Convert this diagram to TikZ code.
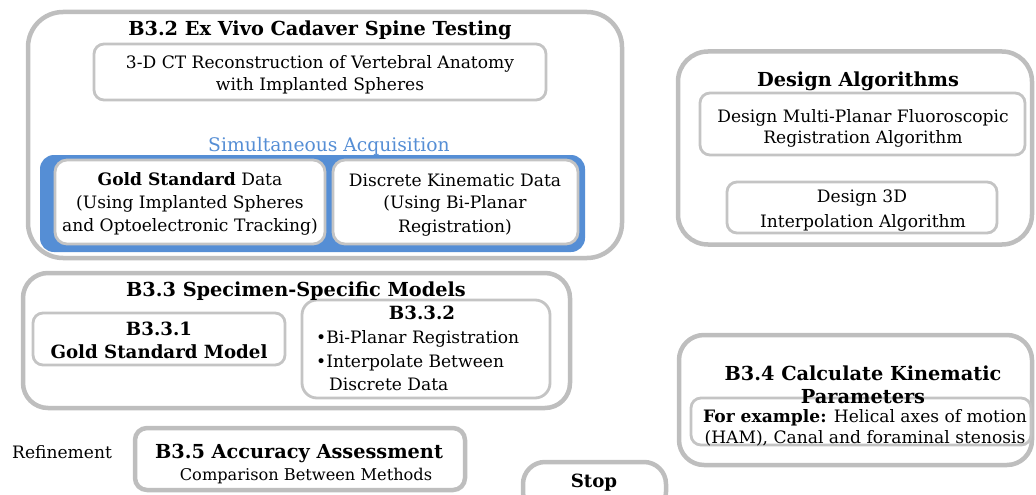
\documentclass[tikz,border=0pt]{standalone}
\usepackage{fontspec}
\setmainfont{DejaVu Serif}
\definecolor{boxgray}{RGB}{190,190,190}
\definecolor{ibgray}{RGB}{196,196,196}
\definecolor{accblue}{RGB}{85,142,213}
\newcommand{\normtxt}{\fontsize{17.1}{20}\selectfont}
\newcommand{\smtxt}{\fontsize{16.2}{20}\selectfont}
\newcommand{\simtxt}{\fontsize{18.7}{20}\selectfont}
\newcommand{\ttltxt}{\fontsize{19.3}{22}\selectfont\bfseries}
\newcommand{\subtxt}{\fontsize{18.2}{22}\selectfont\bfseries}
\tikzset{
  obox/.style={draw=boxgray, line width=4.5pt, rounded corners=#1, inner sep=0pt, fill=white},
  ibox/.style={draw=ibgray, line width=2.8pt, rounded corners=#1, inner sep=0pt, fill=white},
  bluebox/.style={fill=accblue, draw=none, rounded corners=#1, inner sep=0pt},
  txt/.style={inner sep=0pt, anchor=base, font=\normtxt},
  ltxt/.style={inner sep=0pt, anchor=base west, font=\normtxt},
  ttl/.style={inner sep=0pt, anchor=base, font=\ttltxt},
  subttl/.style={inner sep=0pt, anchor=base, font=\subtxt},
}
\begin{document}
\begin{tikzpicture}[x=1pt,y=-1pt]
\useasboundingbox (0,0) rectangle (1036,495);
\clip (0,0) rectangle (1036,495);
% outer boxes
\node[obox=35, minimum width=594pt, minimum height=246pt] (b32) at (325,135) {};
\node[obox=25, minimum width=547pt, minimum height=135pt] (b33) at (296.5,340.5) {};
\node[obox=12, minimum width=330pt, minimum height=62pt] (b35) at (300,459) {};
\node[obox=22, minimum width=143pt, minimum height=52pt] (stop) at (594.5,488) {};
\node[obox=30, minimum width=354pt, minimum height=193pt] (da) at (855,148) {};
\node[obox=25, minimum width=353pt, minimum height=130pt] (b34) at (855.5,400) {};
% blue acquisition box
\node[bluebox=14, minimum width=545pt, minimum height=97pt] (acq) at (312.5,203.5) {};
% inner boxes
\node[ibox=10, minimum width=452pt, minimum height=56pt] (ct) at (320,72) {};
\node[ibox=12, minimum width=270pt, minimum height=84pt] (gold) at (190,202) {};
\node[ibox=12, minimum width=245pt, minimum height=84pt] (disc) at (455.5,202) {};
\node[ibox=10, minimum width=252pt, minimum height=52pt] (b331) at (159,339) {};
\node[ibox=15, minimum width=248pt, minimum height=98pt] (b332) at (426,349) {};
\node[ibox=10, minimum width=325pt, minimum height=62pt] (da1) at (862.5,124) {};
\node[ibox=10, minimum width=270pt, minimum height=51pt] (da2) at (862,207.5) {};
\node[ibox=10, minimum width=340pt, minimum height=47pt] (b34i) at (861,421.5) {};
% texts
\node[ttl] (t32) at (320,36) {B3.2 Ex Vivo Cadaver Spine Testing};
\node[txt] (ct1) at (320,68) {3-D CT Reconstruction of Vertebral Anatomy};
\node[txt] (ct2) at (320,91) {with Implanted Spheres};
\node[txt, font=\simtxt, text=accblue] (sim) at (329,151) {Simultaneous Acquisition};
\node[txt] (g1) at (190,185) {\textbf{Gold Standard} Data};
\node[txt] (g2) at (190,208) {(Using Implanted Spheres};
\node[txt] (g3) at (190,231) {and Optoelectronic Tracking)};
\node[txt] (d1) at (455,186) {Discrete Kinematic Data};
\node[txt] (d2) at (455,208) {(Using Bi-Planar};
\node[txt] (d3) at (455,232) {Registration)};
\node[ttl] (t33) at (296,296) {B3.3 Specimen-Specific Models};
\node[subttl] (t331a) at (159,335) {B3.3.1};
\node[subttl] (t331b) at (159,358) {Gold Standard Model};
\node[subttl] (t332) at (422,319) {B3.3.2};
\node[ltxt] (p1) at (316,343) {•Bi-Planar Registration};
\node[ltxt] (p2) at (316,367) {•Interpolate Between};
\node[ltxt] (p3) at (329,390) {Discrete Data};
\node[ltxt] (ref) at (12,458) {Refinement};
\node[ttl] (t35) at (299,458) {B3.5 Accuracy Assessment};
\node[txt, font=\smtxt] (c35) at (306,480) {Comparison Between Methods};
\node[subttl] (tstop) at (594,487) {Stop};
\node[ttl] (tda) at (858,87) {Design Algorithms};
\node[txt] (a1) at (863,122) {Design Multi-Planar Fluoroscopic};
\node[txt] (a2) at (863,143) {Registration Algorithm};
\node[txt] (a3) at (862,202) {Design 3D};
\node[txt] (a4) at (863,227) {Interpolation Algorithm};
\node[ttl] (t34a) at (863,380) {B3.4 Calculate Kinematic};
\node[ttl] (t34b) at (863,403) {Parameters};
\node[txt] (e1) at (865,422) {\textbf{For example:} Helical axes of motion};
\node[txt] (e2) at (865,443) {(HAM), Canal and foraminal stenosis};
\end{tikzpicture}
\end{document}
